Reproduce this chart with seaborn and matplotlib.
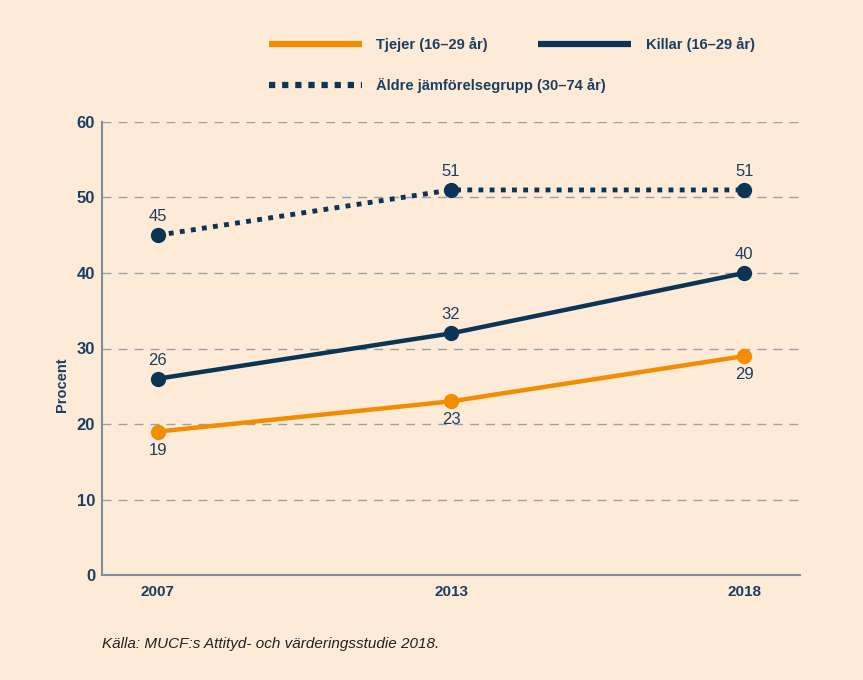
import pandas as pd
import matplotlib.pyplot as plt
import seaborn as sns
from matplotlib.lines import Line2D

# Data
years = ["2007", "2013", "2018"]
tjejer = [19, 23, 29]
killar = [26, 32, 40]
aldre = [45, 51, 51]

bg = "#FDEBD7"
orange = "#F28C00"
navy = "#0B3556"
textc = "#1B3F63"
gridc = "#9AA0A8"

sns.set_theme(style="white")
plt.rcParams["font.family"] = ["Liberation Sans", "DejaVu Sans"]

fig = plt.figure(figsize=(8.63, 6.8), dpi=100, facecolor=bg)
ax = fig.add_axes([0.1182, 0.1544, 0.8088, 0.6662])
ax.set_facecolor(bg)

df = pd.DataFrame({"year": years * 3,
                   "value": tjejer + killar + aldre,
                   "serie": ["Tjejer"] * 3 + ["Killar"] * 3 + ["Aldre"] * 3})

sns.lineplot(data=df[df.serie == "Tjejer"], x="year", y="value", color=orange,
             linewidth=3.2, marker="o", markersize=11, markeredgewidth=0, ax=ax)
sns.lineplot(data=df[df.serie == "Killar"], x="year", y="value", color=navy,
             linewidth=3.2, marker="o", markersize=11, markeredgewidth=0, ax=ax)
sns.lineplot(data=df[df.serie == "Aldre"], x="year", y="value", color=navy,
             linewidth=3.5, marker="o", markersize=11, markeredgewidth=0, ax=ax,
             dashes=False)
ax.lines[-1].set_dashes((1, 1.3))
ax.lines[-1].set_dash_capstyle("butt")

# value labels
for i, v in enumerate(aldre):
    ax.annotate(str(v), (i, v), xytext=(0, 8), textcoords="offset points",
                ha="center", va="bottom", fontsize=12, color=textc)
for i, v in enumerate(killar):
    ax.annotate(str(v), (i, v), xytext=(0, 8), textcoords="offset points",
                ha="center", va="bottom", fontsize=12, color=textc)
for i, v in enumerate(tjejer):
    ax.annotate(str(v), (i, v), xytext=(0, -8), textcoords="offset points",
                ha="center", va="top", fontsize=12, color=textc)

ax.set_xlim(-0.19, 2.19)
ax.set_ylim(0, 60)
ax.set_yticks(range(0, 61, 10))
for y in range(10, 61, 10):
    ax.axhline(y, color=gridc, linewidth=1, dashes=(6.5, 5), zorder=0)

for s in ["top", "right"]:
    ax.spines[s].set_visible(False)
for s in ["left", "bottom"]:
    ax.spines[s].set_color("#7F8C99")
    ax.spines[s].set_linewidth(1.5)

ax.tick_params(axis="both", length=0, labelcolor=textc)
ax.tick_params(axis="y", pad=5, labelsize=12)
ax.tick_params(axis="x", pad=7, labelsize=11)
for lbl in ax.get_xticklabels() + ax.get_yticklabels():
    lbl.set_fontweight("bold")

ax.set_xlabel("")
ax.set_ylabel("Procent", fontsize=10.5, fontweight="bold", color=textc)
ax.yaxis.set_label_coords(-0.047, 0.42)

# legend
handles = [
    Line2D([], [], color=orange, linewidth=4.5, solid_capstyle="butt"),
    Line2D([], [], color=navy, linewidth=4.5, dashes=(1, 1.1), dash_capstyle="butt"),
    Line2D([], [], color=navy, linewidth=4.5, solid_capstyle="butt"),
]
labels = ["Tjejer (16\u201329 år)", "Äldre jämförelsegrupp (30\u201374 år)", "Killar (16\u201329 år)"]
leg = fig.legend(handles, labels, ncol=2, loc="upper left", bbox_to_anchor=(0.296, 0.965),
                 frameon=False, handlelength=6.4, handletextpad=1.0, columnspacing=-4.7,
                 labelspacing=1.75, prop={"weight": "bold", "size": 10.5})
for t in leg.get_texts():
    t.set_color(textc)

fig.text(0.1182, 0.047, "Källa: MUCF:s Attityd- och värderingsstudie 2018.",
         fontsize=11, style="italic", color="#222222")

fig.savefig("out.png", dpi=100, facecolor=bg)
